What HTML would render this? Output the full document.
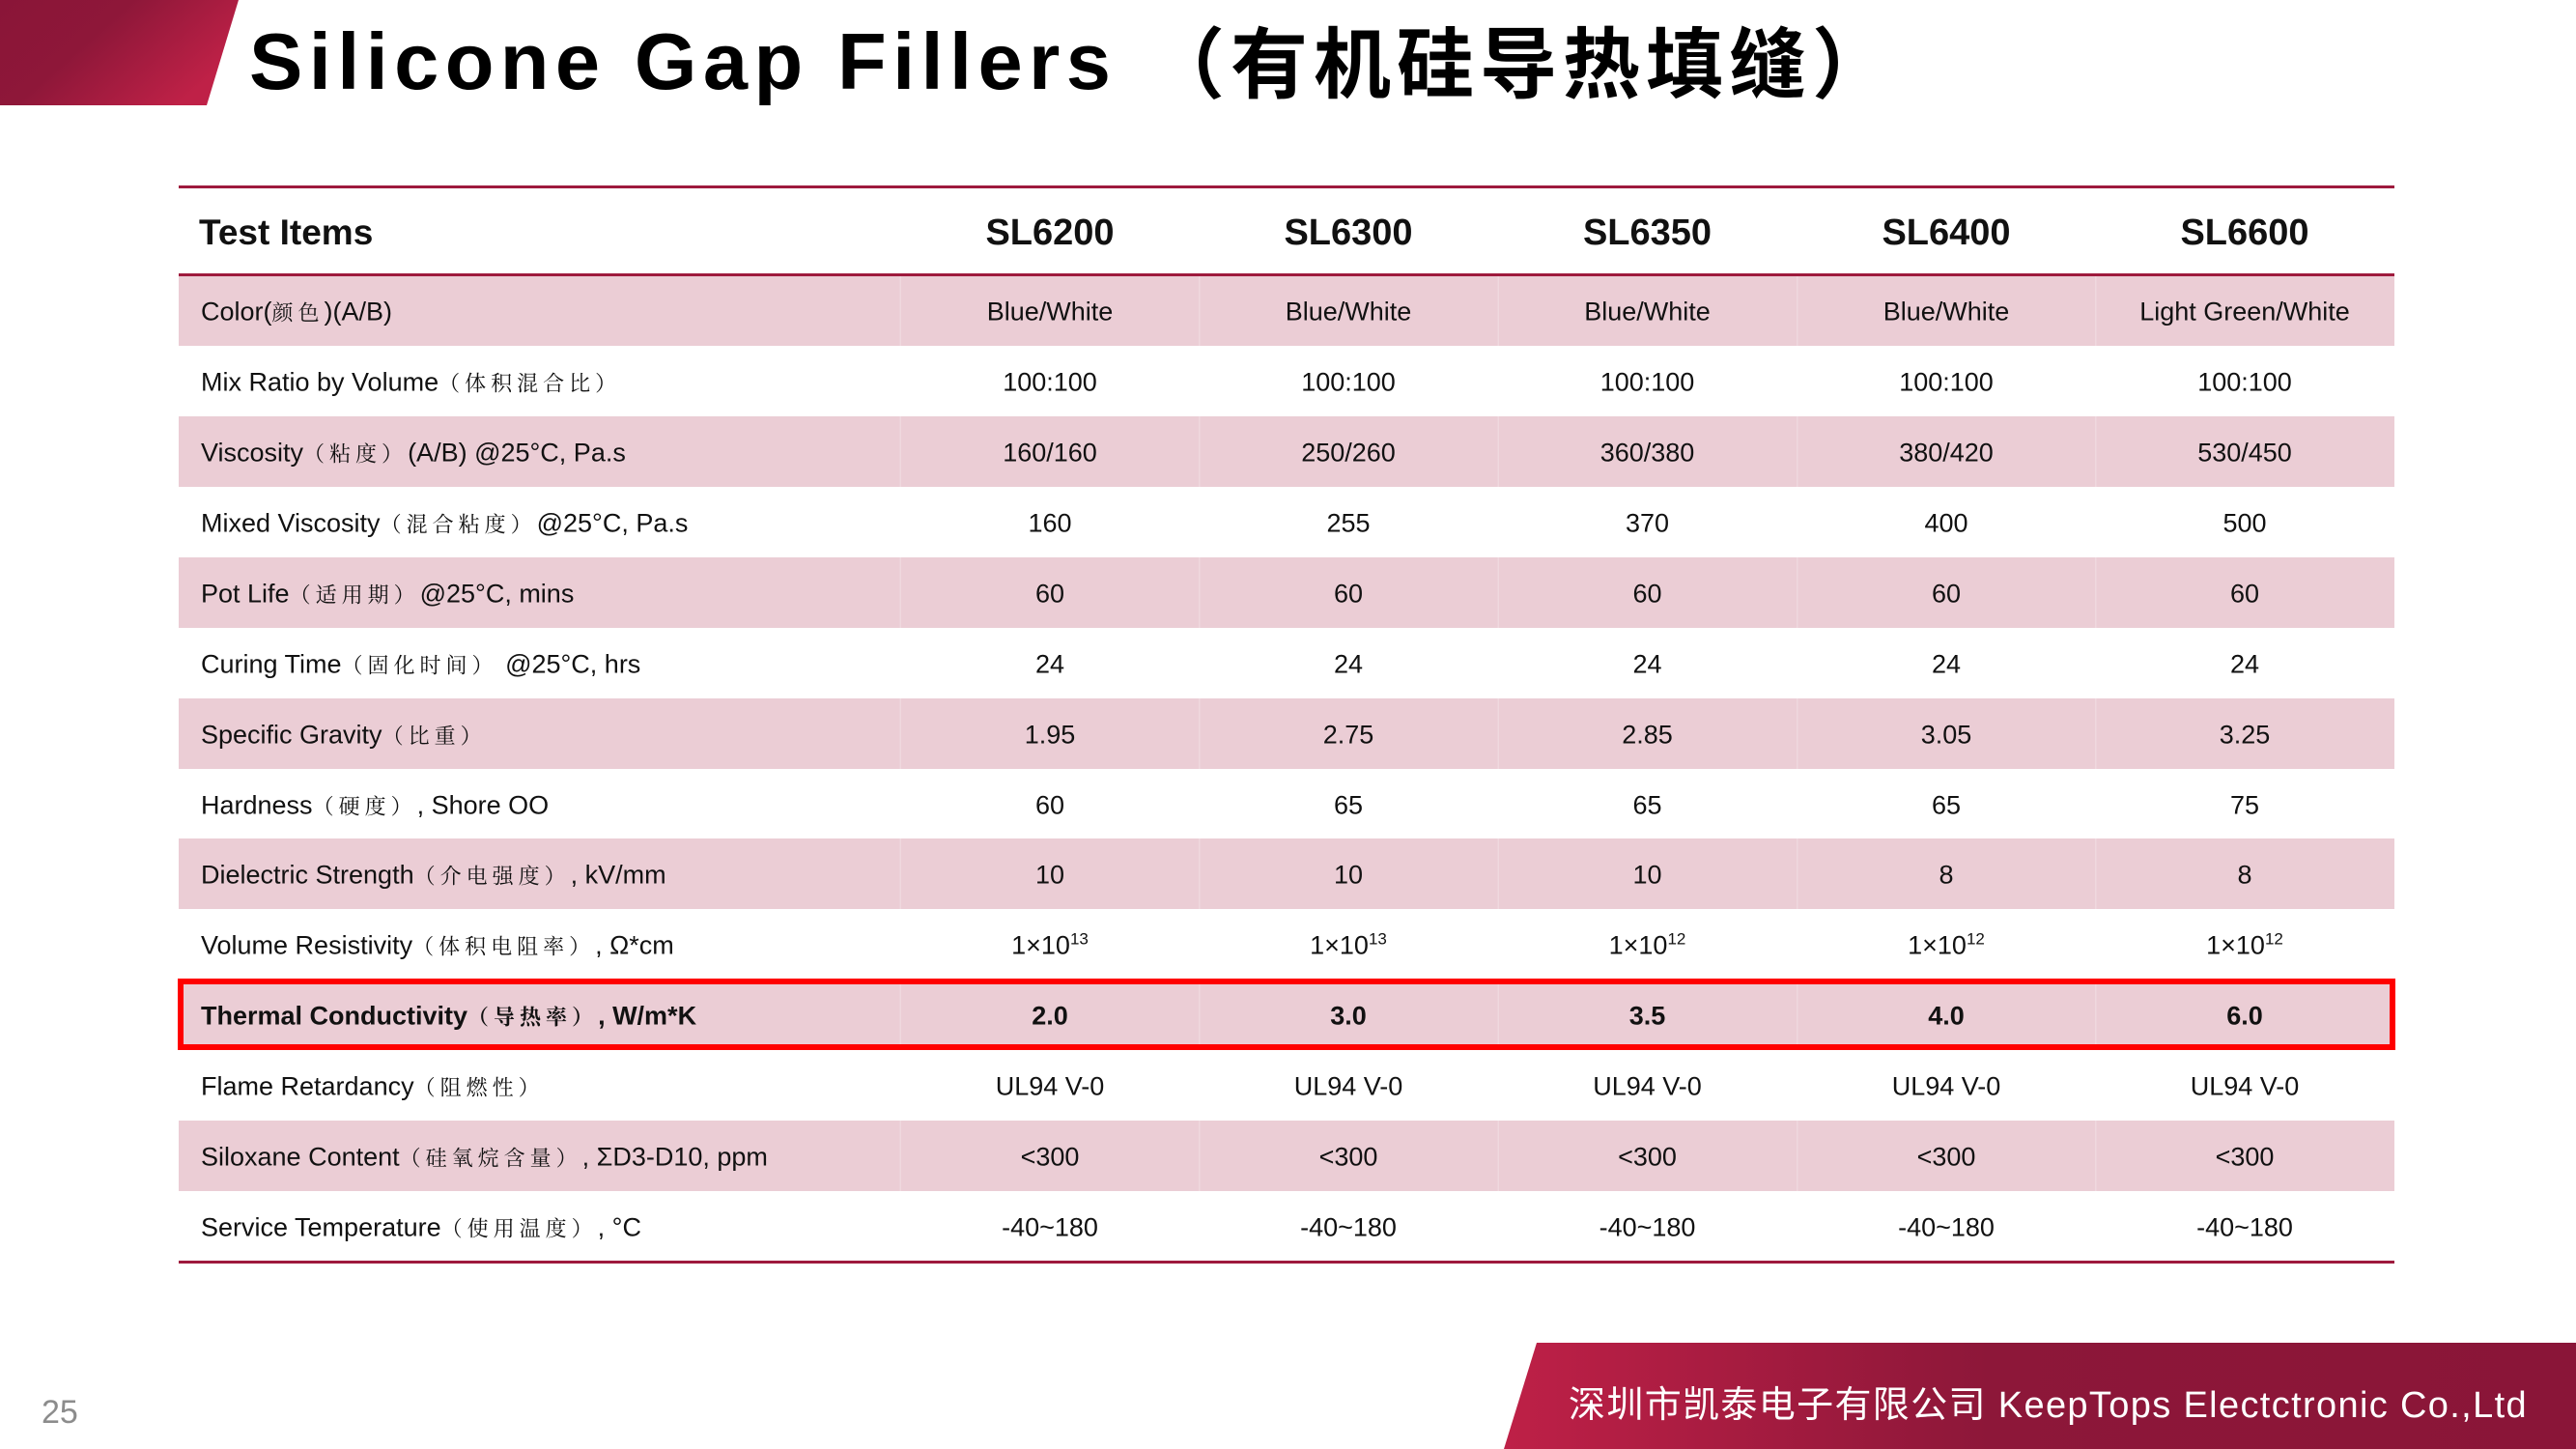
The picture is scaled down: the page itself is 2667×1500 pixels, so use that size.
<!DOCTYPE html>
<html><head><meta charset="utf-8"><style>
html,body{margin:0;padding:0;background:#fff;}
body{width:2667px;height:1500px;overflow:hidden;}
svg{display:block;}
.z{font-family:"Noto Serif CJK SC","Noto Sans CJK SC",serif;font-size:22px;letter-spacing:5px;}
</style></head><body>
<svg width="2667" height="1500" viewBox="0 0 2667 1500" xmlns="http://www.w3.org/2000/svg" font-family="'Liberation Sans','Noto Sans CJK SC',sans-serif">
<defs>
<linearGradient id="g1" x1="0" y1="0" x2="1" y2="0.5">
<stop offset="0" stop-color="#8a1538"/><stop offset="0.45" stop-color="#8e1739"/><stop offset="1" stop-color="#bf2147"/>
</linearGradient>
<linearGradient id="g2" x1="0" y1="0" x2="1" y2="0">
<stop offset="0" stop-color="#be2047"/><stop offset="0.45" stop-color="#8d1739"/><stop offset="1" stop-color="#8a1538"/>
</linearGradient>
</defs>
<rect x="0" y="0" width="2667" height="1500" fill="#ffffff"/>
<polygon points="0,0 247,0 214,109 0,109" fill="url(#g1)"/>
<polygon points="1591,1390 2667,1390 2667,1500 1557,1500" fill="url(#g2)"/>

<text x="258" y="92" font-size="83" font-weight="bold" letter-spacing="6.4" fill="#000">Silicone Gap Fillers</text>
<text x="1188" y="95" font-size="80" font-weight="bold" letter-spacing="6" fill="#000" font-family="'Noto Sans CJK SC',sans-serif">（有机硅导热填缝）</text>

<!-- pink rows -->
<g fill="#ebcdd5">
<rect x="185" y="286" width="2294" height="72"/>
<rect x="185" y="431" width="2294" height="73"/>
<rect x="185" y="577" width="2294" height="73"/>
<rect x="185" y="723" width="2294" height="73"/>
<rect x="185" y="868" width="2294" height="73"/>
<rect x="185" y="1014" width="2294" height="73"/>
<rect x="185" y="1160" width="2294" height="73"/>
</g>
<g fill="#ffffff" opacity="0.22">
<rect x="931.5" y="286" width="1.5" height="1019"/>
<rect x="1241" y="286" width="1.5" height="1019"/>
<rect x="1550.5" y="286" width="1.5" height="1019"/>
<rect x="1860" y="286" width="1.5" height="1019"/>
<rect x="2169" y="286" width="1.5" height="1019"/>
</g>
<g fill="#9e1a3d">
<rect x="185" y="192" width="2294" height="3"/>
<rect x="185" y="283" width="2294" height="3"/>
<rect x="185" y="1305" width="2294" height="3"/>
</g>

<!-- header -->
<g font-weight="bold" fill="#111" font-size="38">
<text x="206" y="253" font-size="37">Test Items</text>
<g text-anchor="middle">
<text x="1087" y="253">SL6200</text>
<text x="1396" y="253">SL6300</text>
<text x="1705.5" y="253">SL6350</text>
<text x="2015" y="253">SL6400</text>
<text x="2324" y="253">SL6600</text>
</g>
</g>

<!-- labels -->
<g font-size="27" fill="#111">
<text x="208" y="331.7">Color(<tspan class="z">颜色</tspan>)(A/B)</text>
<text x="208" y="404.7">Mix Ratio by Volume<tspan class="z">（体积混合比）</tspan></text>
<text x="208" y="477.7">Viscosity<tspan class="z">（粘度）</tspan>(A/B) @25°C, Pa.s</text>
<text x="208" y="550.7">Mixed Viscosity<tspan class="z">（混合粘度）</tspan>@25°C, Pa.s</text>
<text x="208" y="623.7">Pot Life<tspan class="z">（适用期）</tspan>@25°C, mins</text>
<text x="208" y="696.7">Curing Time<tspan class="z">（固化时间）</tspan> @25°C, hrs</text>
<text x="208" y="769.7">Specific Gravity<tspan class="z">（比重）</tspan></text>
<text x="208" y="842.7">Hardness<tspan class="z">（硬度）</tspan>, Shore OO</text>
<text x="208" y="914.7">Dielectric Strength<tspan class="z">（介电强度）</tspan>, kV/mm</text>
<text x="208" y="987.7">Volume Resistivity<tspan class="z">（体积电阻率）</tspan>, Ω*cm</text>
<text x="208" y="1060.7" font-weight="bold">Thermal Conductivity<tspan class="z" font-weight="bold">（导热率）</tspan>, W/m*K</text>
<text x="208" y="1133.7">Flame Retardancy<tspan class="z">（阻燃性）</tspan></text>
<text x="208" y="1206.7">Siloxane Content<tspan class="z">（硅氧烷含量）</tspan>, ΣD3-D10, ppm</text>
<text x="208" y="1279.7">Service Temperature<tspan class="z">（使用温度）</tspan>, °C</text>
</g>

<!-- values -->
<g font-size="27" fill="#111" text-anchor="middle">
<text x="1087" y="331.7">Blue/White</text><text x="1396" y="331.7">Blue/White</text><text x="1705.5" y="331.7">Blue/White</text><text x="2015" y="331.7">Blue/White</text><text x="2324" y="331.7">Light Green/White</text>
<text x="1087" y="404.7">100:100</text><text x="1396" y="404.7">100:100</text><text x="1705.5" y="404.7">100:100</text><text x="2015" y="404.7">100:100</text><text x="2324" y="404.7">100:100</text>
<text x="1087" y="477.7">160/160</text><text x="1396" y="477.7">250/260</text><text x="1705.5" y="477.7">360/380</text><text x="2015" y="477.7">380/420</text><text x="2324" y="477.7">530/450</text>
<text x="1087" y="550.7">160</text><text x="1396" y="550.7">255</text><text x="1705.5" y="550.7">370</text><text x="2015" y="550.7">400</text><text x="2324" y="550.7">500</text>
<text x="1087" y="623.7">60</text><text x="1396" y="623.7">60</text><text x="1705.5" y="623.7">60</text><text x="2015" y="623.7">60</text><text x="2324" y="623.7">60</text>
<text x="1087" y="696.7">24</text><text x="1396" y="696.7">24</text><text x="1705.5" y="696.7">24</text><text x="2015" y="696.7">24</text><text x="2324" y="696.7">24</text>
<text x="1087" y="769.7">1.95</text><text x="1396" y="769.7">2.75</text><text x="1705.5" y="769.7">2.85</text><text x="2015" y="769.7">3.05</text><text x="2324" y="769.7">3.25</text>
<text x="1087" y="842.7">60</text><text x="1396" y="842.7">65</text><text x="1705.5" y="842.7">65</text><text x="2015" y="842.7">65</text><text x="2324" y="842.7">75</text>
<text x="1087" y="914.7">10</text><text x="1396" y="914.7">10</text><text x="1705.5" y="914.7">10</text><text x="2015" y="914.7">8</text><text x="2324" y="914.7">8</text>
<text x="1087" y="987.7">1×10<tspan font-size="17" dy="-10">13</tspan></text>
<text x="1396" y="987.7">1×10<tspan font-size="17" dy="-10">13</tspan></text>
<text x="1705.5" y="987.7">1×10<tspan font-size="17" dy="-10">12</tspan></text>
<text x="2015" y="987.7">1×10<tspan font-size="17" dy="-10">12</tspan></text>
<text x="2324" y="987.7">1×10<tspan font-size="17" dy="-10">12</tspan></text>
<g font-weight="bold">
<text x="1087" y="1060.7">2.0</text><text x="1396" y="1060.7">3.0</text><text x="1705.5" y="1060.7">3.5</text><text x="2015" y="1060.7">4.0</text><text x="2324" y="1060.7">6.0</text>
</g>
<text x="1087" y="1133.7">UL94 V-0</text><text x="1396" y="1133.7">UL94 V-0</text><text x="1705.5" y="1133.7">UL94 V-0</text><text x="2015" y="1133.7">UL94 V-0</text><text x="2324" y="1133.7">UL94 V-0</text>
<text x="1087" y="1206.7">&lt;300</text><text x="1396" y="1206.7">&lt;300</text><text x="1705.5" y="1206.7">&lt;300</text><text x="2015" y="1206.7">&lt;300</text><text x="2324" y="1206.7">&lt;300</text>
<text x="1087" y="1279.7">-40~180</text><text x="1396" y="1279.7">-40~180</text><text x="1705.5" y="1279.7">-40~180</text><text x="2015" y="1279.7">-40~180</text><text x="2324" y="1279.7">-40~180</text>
</g>

<!-- highlight box -->
<rect x="187" y="1016" width="2290" height="68" fill="none" stroke="#ff0000" stroke-width="6"/>

<!-- footer -->
<text x="1624" y="1467" font-size="38" letter-spacing="1.35" fill="#ffffff"><tspan font-family="'Noto Sans CJK SC',sans-serif">深圳市凯泰电子有限公司</tspan> KeepTops Electctronic Co.,Ltd</text>
<text x="43" y="1473" font-size="34" fill="#8c8c8c">25</text>
</svg>
</body></html>
